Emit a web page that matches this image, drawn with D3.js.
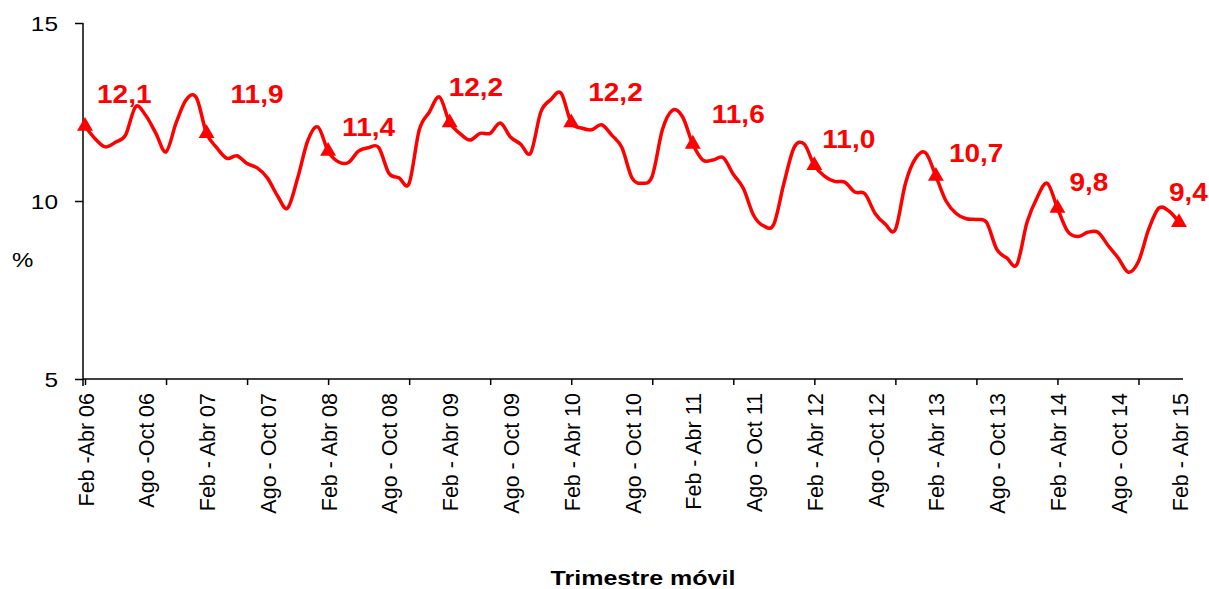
<!DOCTYPE html>
<html>
<head>
<meta charset="utf-8">
<script src="https://cdn.jsdelivr.net/npm/d3@7"></script>
<style>
  body { margin: 0; background: #fff; }
  svg { display: block; }
  .axis path, .axis line { stroke: #000; stroke-width: 1.5; }
  .axis text { fill: #000; font-family: Arial, "Liberation Sans", sans-serif; }
</style>
</head>
<body>
<div id="chart"></div>
<script>
// tasa de desempleo, trimestre móvil (Feb-Abr 06 ... Feb-Abr 15)
const values = [
  12.1, 11.75, 11.52, 11.65, 11.85, 12.65, 12.4, 11.9, 11.38, 12.2, 12.85, 12.9,
  11.9, 11.5, 11.2, 11.27, 11.05, 10.93, 10.65, 10.15, 9.8, 10.65, 11.7, 12.08,
  11.4, 11.1, 11.08, 11.4, 11.5, 11.5, 10.78, 10.65, 10.5, 12.0, 12.5, 12.92,
  12.2, 11.9, 11.71, 11.9, 11.9, 12.19, 11.8, 11.6, 11.35, 12.5, 12.85, 13.03,
  12.2, 12.05, 12.0, 12.14, 11.85, 11.5, 10.65, 10.5, 10.7, 12.0, 12.55, 12.36,
  11.6, 11.15, 11.15, 11.22, 10.75, 10.35, 9.6, 9.3, 9.35, 10.5, 11.5, 11.6,
  11.0, 10.7, 10.55, 10.53, 10.25, 10.2, 9.65, 9.35, 9.2, 10.5, 11.2, 11.35,
  10.7, 10.0, 9.65, 9.5, 9.48, 9.4, 8.65, 8.4, 8.22, 9.4, 10.1, 10.5,
  9.8, 9.15, 9.0, 9.12, 9.12, 8.75, 8.4, 8.0, 8.3, 9.2, 9.8, 9.72,
  9.4
];

const xLabels = [
  "Feb -Abr 06", "Ago -Oct 06", "Feb - Abr 07", "Ago - Oct 07", "Feb - Abr 08",
  "Ago - Oct 08", "Feb - Abr 09", "Ago - Oct 09", "Feb - Abr 10", "Ago - Oct 10",
  "Feb - Abr 11", "Ago - Oct 11", "Feb - Abr 12", "Ago -Oct 12", "Feb - Abr 13",
  "Ago - Oct 13", "Feb - Abr 14", "Ago - Oct 14", "Feb - Abr 15"
];

// Feb-Abr de cada año, marcados con triángulo
const markIdx = [0, 12, 24, 36, 48, 60, 72, 84, 96, 108];
const yTicks = [5, 10, 15];

// where each value label sits relative to its marker
const labelNudge = [
  [12, -23], [24, -30], [14, -15], [-1, -27], [17, -22],
  [19, -21], [8, -17], [13, -14], [12, -17], [-10, -21]
];

const width = 1209, height = 589;
const red = "#ff0000";

const svg = d3.select("#chart").append("svg")
  .attr("width", width)
  .attr("height", height);

const x = d3.scaleLinear().domain([0, values.length - 1]).range([85, 1179]);
const y = d3.scaleLinear().domain([5, 15]).range([379, 23]);

// x axis: tick marks every 8 months, labels every 6
const xAxis = svg.append("g")
  .attr("class", "axis")
  .attr("transform", `translate(0,${y(5)})`)
  .call(d3.axisBottom(x)
    .tickValues(d3.range(0, values.length, 8))
    .tickSize(6)
    .tickSizeOuter(0)
    .tickFormat(""));
xAxis.select(".domain").attr("d", `M83,0H1183`);

const xLab = svg.append("g")
  .attr("class", "axis")
  .attr("transform", `translate(0,${y(5)})`)
  .call(d3.axisBottom(x)
    .tickValues(d3.range(0, values.length, 6))
    .tickSize(0)
    .tickFormat((d, i) => xLabels[i]));
xLab.select(".domain").remove();
xLab.selectAll("text")
  .attr("font-size", 21.5)
  .attr("text-anchor", "end")
  .attr("dy", null)
  .attr("y", 0)
  .attr("transform", "translate(8,14) rotate(-90) scale(1,1.06)");

const yAxis = svg.append("g")
  .attr("class", "axis")
  .attr("transform", "translate(83,0)")
  .call(d3.axisLeft(y).tickValues(yTicks).tickSize(8).tickSizeOuter(0).tickPadding(0));
yAxis.select(".domain").attr("d", `M0,${y(15)}V${y(5) + 7}`);
yAxis.selectAll(".tick text")
  .attr("font-size", 20)
  .attr("x", null)
  .attr("dy", "0.35em")
  .attr("text-anchor", "end")
  .attr("transform", "translate(-25,0) scale(1.22,1)");

svg.append("text")
  .attr("transform", "translate(12,267) scale(1.2,1)")
  .attr("font-family", "Arial, 'Liberation Sans', sans-serif")
  .attr("font-size", 20)
  .text("%");

svg.append("text")
  .attr("transform", "translate(643,585) scale(1.22,1)")
  .attr("text-anchor", "middle")
  .attr("font-family", "Arial, 'Liberation Sans', sans-serif")
  .attr("font-weight", "bold")
  .attr("font-size", 20.5)
  .text("Trimestre móvil");

const line = d3.line()
  .x((d, i) => x(i))
  .y((d) => y(d))
  .curve(d3.curveCatmullRom.alpha(0));

svg.append("path")
  .datum(values)
  .attr("fill", "none")
  .attr("stroke", red)
  .attr("stroke-width", 3.5)
  .attr("stroke-linejoin", "round")
  .attr("d", line);

svg.append("g")
  .selectAll("path")
  .data(markIdx)
  .join("path")
  .attr("d", d3.symbol(d3.symbolTriangle, 110))
  .attr("fill", red)
  .attr("transform", (d) => `translate(${x(d)},${y(values[d])})`);

svg.append("g")
  .selectAll("text")
  .data(markIdx)
  .join("text")
  .attr("transform", (d, i) =>
    `translate(${x(d) + labelNudge[i][0]},${y(values[d]) + labelNudge[i][1]}) scale(1.12,1)`)
  .attr("font-family", "Arial, 'Liberation Sans', sans-serif")
  .attr("font-weight", "bold")
  .attr("font-size", 25)
  .attr("fill", red)
  .text((d) => d3.format(".1f")(values[d]).replace(".", ","));
</script>
</body>
</html>
